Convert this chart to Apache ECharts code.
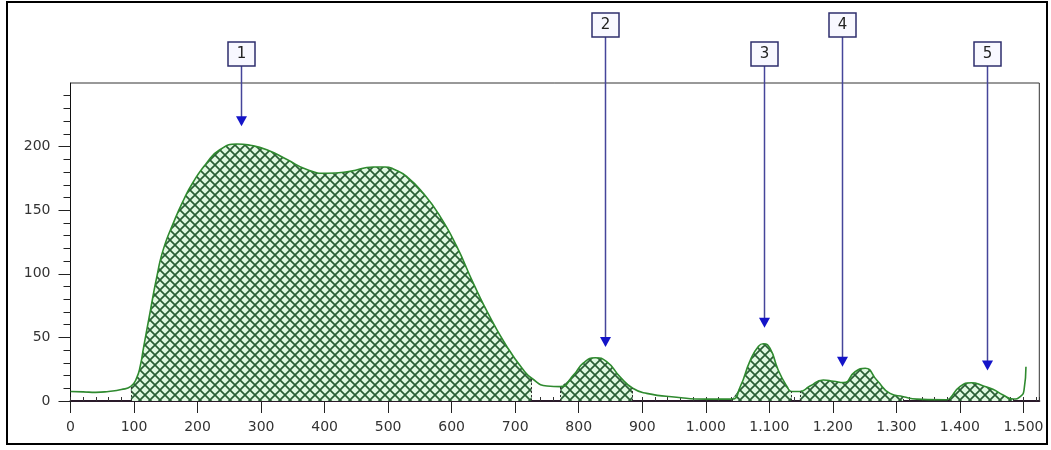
<!DOCTYPE html>
<html>
<head>
<meta charset="utf-8">
<script src="https://cdn.jsdelivr.net/npm/echarts@6/dist/echarts.min.js"></script>
<style>
  html, body { margin: 0; padding: 0; background: #fff; }
  #chart { width: 1051px; height: 450px; }
</style>
</head>
<body>
<div id="chart"></div>
<script>
// Measured profile: [position, signal]
const curve = [
  [0, 7.5], [20, 7.2], [40, 6.8], [60, 7.5], [80, 9], [95, 11.5], [104, 18], [110, 28],
  [115, 42], [125, 69], [136, 98], [146, 119], [162, 140], [178, 158], [193, 172],
  [214, 187], [235, 197.5], [262, 202], [283, 201], [309, 197.5], [340, 190],
  [372, 182], [403, 179], [440, 180.5], [477, 184], [495, 184], [510, 182],
  [529, 176.5], [555, 163.5], [582, 145], [608, 121.5], [634, 92.7], [660, 66.4],
  [687, 42.8], [713, 24.4], [726, 17.9], [750, 11.8], [771, 11.3], [792, 20.5],
  [807, 29.7], [826, 34], [844, 31], [865, 19], [885, 10], [907, 6], [954, 3],
  [1000, 1.5], [1041, 1.5], [1054, 11], [1070, 32], [1083, 43], [1091, 45],
  [1101, 41.5], [1114, 24.4], [1128, 11.3], [1135, 7.5], [1148, 7.5], [1164, 11.8],
  [1185, 16.5], [1201, 15.5], [1217, 14.5], [1235, 23], [1251, 25.7], [1269, 16.5],
  [1290, 6], [1311, 3.4], [1332, 1.5], [1379, 1], [1384, 2], [1400, 11.3],
  [1418, 14.4], [1437, 11.8], [1452, 9.2], [1468, 4.7], [1484, 1.6], [1495, 3.4],
  [1501, 8.7], [1504, 27]
];

// Integrated peak windows [from, to]
const peakRanges = [[95, 726], [771, 885], [1041, 1135], [1148, 1311], [1384, 1484]];

// Peak markers
const peakLabels = ['1', '2', '3', '4', '5'];
const peakX = [268, 842, 1091, 1214, 1442];
const peakTipY = [216, 42.5, 57.5, 27, 24];
const peakBoxY = [263.4, 286.2, 263.4, 286.2, 263.4];

// Axis ticks
const xTicks = [0, 100, 200, 300, 400, 500, 600, 700, 800, 900, 1000, 1100, 1200, 1300, 1400, 1500];
const yTicks = [0, 50, 100, 150, 200];

const SMOOTH = 0.55;
const FONT = 'DejaVu Sans, Verdana, sans-serif';

// Cross-hatch tile for the peak areas
function hatchTile() {
  const c = document.createElement('canvas');
  c.width = 10; c.height = 10;
  const g = c.getContext('2d');
  g.fillStyle = '#e1f9e1';
  g.fillRect(0, 0, 10, 10);
  g.strokeStyle = '#2a5e35';
  g.lineWidth = 1.7;
  g.beginPath();
  g.moveTo(-1, -1); g.lineTo(11, 11);
  g.moveTo(11, -1); g.lineTo(-1, 11);
  g.stroke();
  return c;
}
const hatch = { image: hatchTile(), repeat: 'repeat' };

function fmtThousands(v) {
  return String(v).replace(/\B(?=(\d{3})+(?!\d))/g, '.');
}

const peakSeries = peakRanges.map(function (r) {
  const pts = curve.filter(function (p) { return p[0] >= r[0] && p[0] <= r[1]; });
  const first = pts[0], last = pts[pts.length - 1];
  return {
    type: 'line',
    data: pts,
    smooth: SMOOTH,
    showSymbol: false,
    silent: true,
    lineStyle: { opacity: 0 },
    areaStyle: { color: hatch, opacity: 1 },
    z: 2,
    markLine: {
      silent: true,
      symbol: 'none',
      label: { show: false },
      lineStyle: { color: '#333', width: 1, type: [2, 2] },
      data: [
        [{ coord: [first[0], 0] }, { coord: [first[0], first[1]] }],
        [{ coord: [last[0], 0] }, { coord: [last[0], last[1]] }]
      ]
    }
  };
});

const chart = echarts.init(document.getElementById('chart'), null, { renderer: 'canvas' });

const axisFont = { fontFamily: FONT, fontSize: 14, color: '#333' };

chart.setOption({
  animation: false,
  backgroundColor: '#fff',
  grid: {
    left: 70.5, right: 11.7, top: 83, bottom: 49,
    show: true, borderColor: '#333', borderWidth: 1, backgroundColor: 'transparent'
  },
  xAxis: [
    {
      type: 'value', min: 0, max: 1525, interval: 100,
      axisLine: { show: true, onZero: false, lineStyle: { color: '#2a1a2a', width: 2 } },
      axisTick: { show: true, length: 12, customValues: xTicks, lineStyle: { color: '#222', width: 1 } },
      axisLabel: Object.assign({ margin: 19, customValues: xTicks, formatter: fmtThousands }, axisFont),
      splitLine: { show: false }
    },
    {
      type: 'value', min: 0, max: 1525, interval: 20, position: 'bottom',
      axisLine: { show: false },
      axisTick: { show: true, inside: true, length: 4, lineStyle: { color: '#333', width: 1 } },
      axisLabel: { show: false },
      splitLine: { show: false }
    }
  ],
  yAxis: {
    type: 'value', min: 0, max: 250, interval: 50,
    axisLine: { show: true, onZero: false, lineStyle: { color: '#111', width: 1 } },
    axisTick: { show: true, length: 12, customValues: yTicks, lineStyle: { color: '#222', width: 1 } },
    minorTick: { show: true, splitNumber: 5, length: 7, lineStyle: { color: '#222', width: 1 } },
    axisLabel: Object.assign({ margin: 20, customValues: yTicks }, axisFont),
    splitLine: { show: false }
  },
  series: peakSeries.concat([
    {
      type: 'line',
      data: curve,
      smooth: SMOOTH,
      showSymbol: false,
      silent: true,
      lineStyle: { color: '#2f8a2f', width: 1.6 },
      z: 3
    },
    {
      type: 'custom',
      clip: false,
      silent: true,
      z: 5,
      data: peakX.map(function (x, i) { return [x, peakTipY[i], peakBoxY[i]]; }),
      renderItem: function (params, api) {
        const tip = api.coord([api.value(0), api.value(1)]);
        const box = api.coord([api.value(0), api.value(2)]);
        const cx = Math.round(tip[0]) + 0.5;
        const bw = 27, bh = 24, ah = 10, aw = 5.5;
        return {
          type: 'group',
          children: [
            {
              type: 'line',
              shape: { x1: cx, y1: box[1], x2: cx, y2: tip[1] - ah + 1 },
              style: { stroke: '#45459a', lineWidth: 1.5 }
            },
            {
              type: 'polygon',
              shape: { points: [[cx - aw, tip[1] - ah], [cx + aw, tip[1] - ah], [cx, tip[1]]] },
              style: { fill: '#1414c8' }
            },
            {
              type: 'rect',
              shape: { x: cx - bw / 2, y: box[1] - bh, width: bw, height: bh },
              style: { fill: '#f8f8ff', stroke: '#2e2e6e', lineWidth: 1.5 }
            },
            {
              type: 'text',
              style: {
                x: cx, y: box[1] - bh / 2 + 0.5,
                text: peakLabels[params.dataIndex],
                align: 'center', verticalAlign: 'middle',
                fontFamily: FONT, fontSize: 15, fill: '#222'
              }
            }
          ]
        };
      }
    }
  ]),
  graphic: [
    {
      type: 'rect',
      shape: { x: 7, y: 2, width: 1040, height: 442 },
      style: { fill: 'none', stroke: '#000', lineWidth: 2 },
      silent: true,
      z: 10
    }
  ]
});
</script>
</body>
</html>
